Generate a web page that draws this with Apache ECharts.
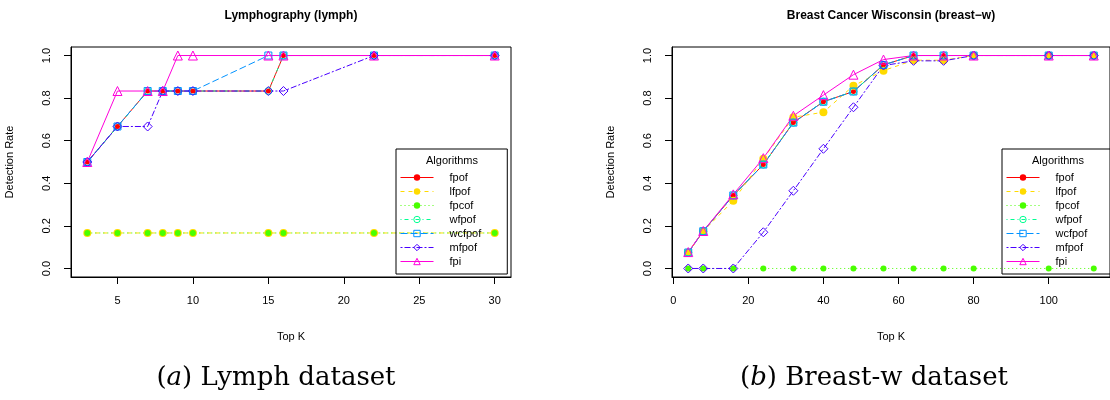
<!DOCTYPE html>
<html>
<head>
<meta charset="utf-8">
<script src="https://cdn.jsdelivr.net/npm/echarts@6/dist/echarts.min.js"></script>
<style>
  html, body { margin: 0; padding: 0; background: #fff; }
  #chart { width: 1110px; height: 400px; }
</style>
</head>
<body>
<div id="chart"></div>
<script>
// 算法名称
var algos = ["fpof", "lfpof", "fpcof", "wfpof", "wcfpof", "mfpof", "fpi"];

// Lymph 数据集
var lymphK = [3, 5, 7, 8, 9, 10, 15, 16, 22, 30];
var lymphFpof   = [0.5, 0.6667, 0.8333, 0.8333, 0.8333, 0.8333, 0.8333, 1, 1, 1];
var lymphLfpof  = [0.1667, 0.1667, 0.1667, 0.1667, 0.1667, 0.1667, 0.1667, 0.1667, 0.1667, 0.1667];
var lymphFpcof  = [0.1667, 0.1667, 0.1667, 0.1667, 0.1667, 0.1667, 0.1667, 0.1667, 0.1667, 0.1667];
var lymphWfpof  = [0.5, 0.6667, 0.8333, 0.8333, 0.8333, 0.8333, 0.8333, 1, 1, 1];
var lymphWcfpof = [0.5, 0.6667, 0.8333, 0.8333, 0.8333, 0.8333, 1, 1, 1, 1];
var lymphMfpof  = [0.5, 0.6667, 0.6667, 0.8333, 0.8333, 0.8333, 0.8333, 0.8333, 1, 1];
var lymphFpi    = [0.5, 0.8333, 0.8333, 0.8333, 1, 1, 1, 1, 1, 1];

// Breast-w 数据集
var breastK = [4, 8, 16, 24, 32, 40, 48, 56, 64, 72, 80, 100, 112];
var breastFpof   = [0.075, 0.175, 0.343, 0.488, 0.685, 0.783, 0.831, 0.956, 1, 1, 1, 1, 1];
var breastLfpof  = [0.075, 0.175, 0.318, 0.515, 0.71, 0.734, 0.858, 0.929, 0.978, 0.978, 1, 1, 1];
var breastFpcof  = [0, 0, 0, 0, 0, 0, 0, 0, 0, 0, 0, 0, 0];
var breastWfpof  = [0.075, 0.175, 0.343, 0.488, 0.685, 0.783, 0.831, 0.956, 1, 1, 1, 1, 1];
var breastWcfpof = [0.075, 0.175, 0.343, 0.488, 0.685, 0.783, 0.831, 0.956, 1, 1, 1, 1, 1];
var breastMfpof  = [0, 0, 0, 0.17, 0.365, 0.562, 0.757, 0.953, 0.975, 0.975, 1, 1, 1];
var breastFpi    = [0.077, 0.176, 0.348, 0.518, 0.717, 0.814, 0.91, 0.981, 1, 1, 1, 1, 1];

var yTicks = [0, 0.2, 0.4, 0.6, 0.8, 1.0];
var lymphXTicks = [5, 10, 15, 20, 25, 30];
var breastXTicks = [0, 20, 40, 60, 80, 100];

var lymphVals = [lymphFpof, lymphLfpof, lymphFpcof, lymphWfpof, lymphWcfpof, lymphMfpof, lymphFpi];
var breastVals = [breastFpof, breastLfpof, breastFpcof, breastWfpof, breastWcfpof, breastMfpof, breastFpi];

// R rainbow(7) 配色 + 线型 + 点型
var styles = [
  { color: "#FF0000", dash: "solid",       symbol: "circle",   size: 5, hollow: false },
  { color: "#FFDB00", dash: [4, 4],        symbol: "circle",   size: 8, hollow: false },
  { color: "#49FF00", dash: [1, 3],        symbol: "circle",   size: 6, hollow: false },
  { color: "#00FF92", dash: [1, 3, 4, 3],  symbol: "circle",   size: 7, hollow: true },
  { color: "#0092FF", dash: [7, 3],        symbol: "rect",     size: 7, hollow: true },
  { color: "#4900FF", dash: [2, 2, 6, 2],  symbol: "diamond",  size: 9, hollow: true },
  { color: "#FF00DB", dash: "solid",       symbol: "triangle", size: 9, hollow: true }
];

var font = "Liberation Sans, Arial, sans-serif";

function pointStyle(s) {
  return s.hollow
    ? { color: "rgba(0,0,0,0)", borderColor: s.color, borderWidth: 1 }
    : { color: s.color, borderWidth: 0 };
}

function makeSeries(ks, vals, axisIdx) {
  return algos.map(function (name, i) {
    var s = styles[i];
    return {
      name: name,
      type: "line",
      xAxisIndex: axisIdx,
      yAxisIndex: axisIdx,
      symbol: s.symbol,
      symbolSize: s.size,
      showSymbol: true,
      data: ks.map(function (k, j) { return [k, vals[i][j]]; }),
      lineStyle: { color: s.color, width: 1, type: s.dash },
      itemStyle: pointStyle(s),
      emphasis: { disabled: true }
    };
  });
}

function xAxis(gridIdx, min, max, ticks) {
  return {
    type: "value", gridIndex: gridIdx, min: min, max: max,
    name: "Top K", nameLocation: "middle", nameGap: 54,
    nameTextStyle: { color: "#000", fontSize: 11, fontFamily: font },
    axisLine: { show: true, onZero: false, lineStyle: { color: "#000", width: 1 } },
    axisTick: { show: true, length: 7, customValues: ticks, lineStyle: { color: "#000" } },
    axisLabel: { customValues: ticks, color: "#000", fontSize: 11, fontFamily: font, margin: 18 },
    splitLine: { show: false }
  };
}

function yAxis(gridIdx) {
  return {
    type: "value", gridIndex: gridIdx, min: -0.04, max: 1.04,
    name: "Detection Rate", nameLocation: "middle", nameGap: 56,
    nameTextStyle: { color: "#000", fontSize: 11, fontFamily: font },
    axisLine: { show: true, onZero: false, lineStyle: { color: "#000", width: 1 } },
    axisTick: { show: true, length: 7, customValues: yTicks, lineStyle: { color: "#000" } },
    axisLabel: {
      customValues: yTicks, rotate: 90, color: "#000", fontSize: 11, fontFamily: font, margin: 19,
      formatter: function (v) { return v.toFixed(1); }
    },
    splitLine: { show: false }
  };
}

function legend(left) {
  return {
    orient: "vertical", left: left, top: 149,
    padding: [23, 26, 7, 4],
    itemWidth: 33, itemHeight: 8, itemGap: 3,
    borderColor: "#000", borderWidth: 1,
    selectedMode: false,
    lineStyle: { width: 1 },
    textStyle: { color: "#000", fontSize: 11, fontFamily: font, padding: [0, 0, 0, 11] },
    data: algos.map(function (name, i) {
      return { name: name, itemStyle: pointStyle(styles[i]) };
    })
  };
}

function label(x, y, text, size, bold) {
  return {
    type: "text", x: x, y: y, z: 100,
    style: {
      text: text, align: "center", verticalAlign: "middle",
      fill: "#000", fontSize: size, fontFamily: font, fontWeight: bold ? "bold" : "normal"
    }
  };
}

function caption(x, y, letter, rest) {
  return {
    type: "text", x: x, y: y, z: 100,
    style: {
      text: "{p|(}{i|" + letter + "}{p|) " + rest + "}",
      align: "center", verticalAlign: "middle",
      rich: {
        p: { fontSize: 26, fontFamily: "DejaVu Serif, serif", fill: "#000" },
        i: { fontSize: 26, fontFamily: "DejaVu Serif, serif", fontStyle: "italic", fill: "#000" }
      }
    }
  };
}

var chart = echarts.init(document.getElementById("chart"));
chart.setOption({
  animation: false,
  backgroundColor: "#fff",
  grid: [
    { left: 71, top: 47, width: 440, height: 230, show: true, borderColor: "#000", borderWidth: 1, backgroundColor: "transparent" },
    { left: 672, top: 47, width: 440, height: 230, show: true, borderColor: "#000", borderWidth: 1, backgroundColor: "transparent" }
  ],
  xAxis: [xAxis(0, 1.92, 31.08, lymphXTicks), xAxis(1, -0.32, 116.32, breastXTicks)],
  yAxis: [yAxis(0), yAxis(1)],
  legend: [legend(396), legend(1002)],
  graphic: [
    label(291, 16, "Lymphography (lymph)", 12, true),
    label(891, 16, "Breast Cancer Wisconsin (breast\u2212w)", 12, true),
    label(452, 161, "Algorithms", 11, false),
    label(1058, 161, "Algorithms", 11, false),
    caption(276, 378, "a", "Lymph dataset"),
    caption(874, 378, "b", "Breast-w dataset")
  ],
  series: makeSeries(lymphK, lymphVals, 0).concat(makeSeries(breastK, breastVals, 1))
});
</script>
</body>
</html>
